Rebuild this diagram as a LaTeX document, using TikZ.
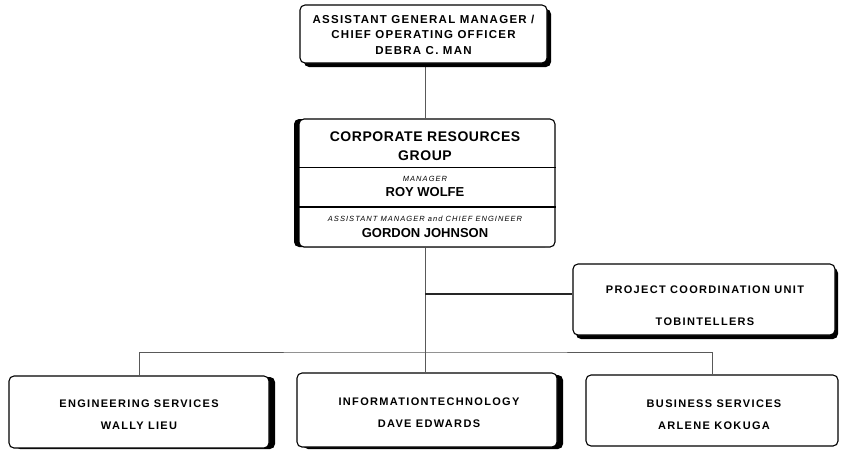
\documentclass[tikz,border=0pt]{standalone}
\usepackage{fontspec}
\setmainfont{Liberation Sans}
\usetikzlibrary{calc,shadows}
\pgfdeclarelayer{paper}
\pgfdeclarelayer{wires}
\pgfsetlayers{paper,wires,main}

\begin{document}
\begin{tikzpicture}[x=1pt,y=-1pt,
  box/.style={draw=black, line width=1.1pt, rounded corners=5pt, fill=white,
              inner sep=0pt, anchor=center},
  shade/.style 2 args={drop shadow={shadow xshift=#1, shadow yshift=#2,
              opacity=1, fill=black}},
  link/.style={draw=black!65, line width=1pt},
  heavylink/.style={draw=black!85, line width=2.2pt},
  lbl/.style={anchor=base, inner sep=0pt,
              font=\fontsize{11}{13}\selectfont\bfseries\addfontfeature{LetterSpace=12}},
  head/.style={anchor=base, inner sep=0pt,
              font=\fontsize{11.5}{13}\selectfont\bfseries\addfontfeature{LetterSpace=11}},
  title/.style={anchor=base, inner sep=0pt,
              font=\fontsize{14}{16}\selectfont\bfseries\addfontfeature{LetterSpace=4}},
  person/.style={anchor=base, inner sep=0pt, font=\fontsize{13}{15}\selectfont\bfseries},
  role/.style={anchor=base, inner sep=0pt,
              font=\fontsize{7.5}{9}\selectfont\itshape\addfontfeature{LetterSpace=14}},
]
\begin{pgfonlayer}{paper}
\useasboundingbox[fill=white] (0,0) rectangle (843,451);
\end{pgfonlayer}

% Boxes
\node[box, shade={4pt}{-4pt}, minimum width=247pt, minimum height=58pt] (agm) at (423.5,34) {};
\node[box, shade={-5pt}{0pt}, minimum width=256pt, minimum height=128pt] (crg) at (427,183) {};
\node[box, shade={3pt}{-4pt}, minimum width=262pt, minimum height=71pt] (pcu) at (704,299.5) {};
\node[box, shade={6pt}{-1pt}, minimum width=260pt, minimum height=72pt] (eng) at (139,412) {};
\node[box, shade={6pt}{-2pt}, minimum width=260pt, minimum height=74pt] (it) at (427,410) {};
\node[box, minimum width=252pt, minimum height=71pt] (bus) at (712,410.5) {};

% Divider lines inside the corporate resources box
\draw[line width=0.8pt] (crg.west |- 0,167) -- (crg.east |- 0,167);
\draw[line width=1.6pt] (crg.west |- 0,207) -- (crg.east |- 0,207);

% Connectors, kept behind the boxes
\begin{pgfonlayer}{wires}
\coordinate (stem) at (425,247);
\coordinate (bustop) at (425,352);
\coordinate (pcujoin) at (425,294);
\draw[link] (agm.south -| stem) -- (crg.north -| stem);
\draw[link] (crg.south -| stem) -- (it.north -| stem);
\draw[heavylink] (pcujoin) -- (pcujoin -| pcu.west);
\draw[link] (eng.north) |- (bustop) -| (bus.north);
\end{pgfonlayer}

% Texts
\node[head] (agm1) at (423.5,23) {ASSISTANT GENERAL MANAGER /};
\node[head] (agm2) at (423.5,38) {CHIEF OPERATING OFFICER};
\node[head] (agm3) at (423.5,54) {DEBRA C. MAN};

\node[title] (crg1) at (425,141) {CORPORATE RESOURCES};
\node[title] (crg2) at (425,160) {GROUP};
\node[role] (crg3) at (425,181) {MANAGER};
\node[person] (crg4) at (425,196) {ROY WOLFE};
\node[role] (crg5) at (425,221) {ASSISTANT MANAGER and CHIEF ENGINEER};
\node[person] (crg6) at (425,237) {GORDON JOHNSON};

\node[lbl] (pcu1) at (705,293) {PROJECT COORDINATION UNIT};
\node[lbl] (pcu2) at (705,325) {TOBINTELLERS};

\node[lbl] (eng1) at (139,407) {ENGINEERING SERVICES};
\node[lbl] (eng2) at (139,429) {WALLY LIEU};

\node[lbl] (it1) at (429,405) {INFORMATIONTECHNOLOGY};
\node[lbl] (it2) at (429,427) {DAVE EDWARDS};

\node[lbl] (bus1) at (714,407) {BUSINESS SERVICES};
\node[lbl] (bus2) at (714,429) {ARLENE KOKUGA};
\end{tikzpicture}
\end{document}
